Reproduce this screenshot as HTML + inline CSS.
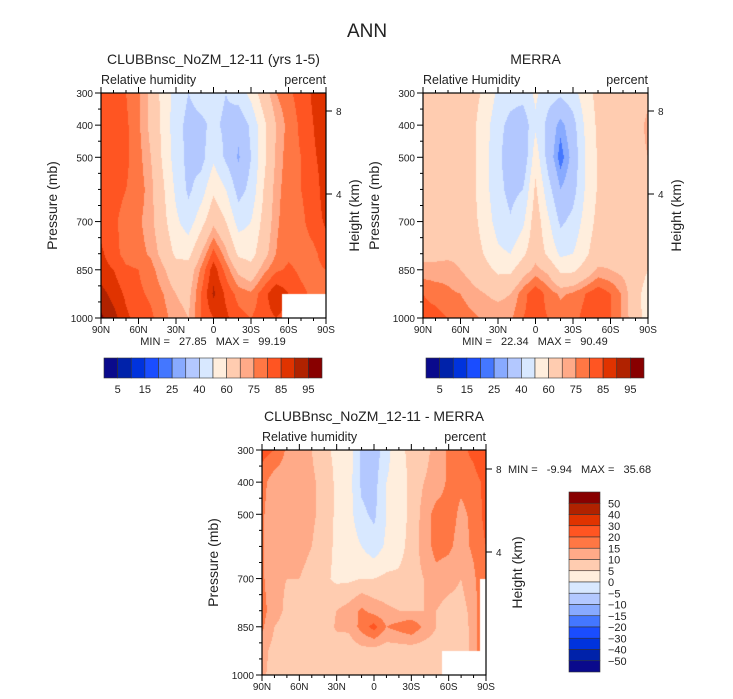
<!DOCTYPE html>
<html><head><meta charset="utf-8">
<style>
body{margin:0;background:#fff;}
#root{position:relative;width:733px;height:699px;overflow:hidden;font-family:"Liberation Sans",sans-serif;}
canvas{position:absolute;}
svg{position:absolute;left:0;top:0;}
</style></head>
<body>
<div id="root">
<canvas id="c1" width="225" height="225" style="left:101px;top:93px"></canvas>
<canvas id="c2" width="225" height="225" style="left:423px;top:93px"></canvas>
<canvas id="c3" width="224" height="225" style="left:262px;top:450px"></canvas>
<svg id="ov" width="733" height="699">
<text x="367" y="37" font-size="19" text-anchor="middle" fill="#222">ANN</text>
</svg>
</div>
<script>
const lats=[90,80,70,60,50,40,30,20,10,0,-10,-20,-30,-40,-50,-60,-70,-80,-90];
const pres=[300,400,500,600,700,800,850,925,1000];
const rhLevels=[5,10,15,20,25,30,40,50,60,70,75,80,85,90,95];
const diffLevels=[-50,-40,-30,-20,-15,-10,-5,0,5,10,15,20,30,40,50];
const colors=["#0a0a8c","#0022aa","#0033dd","#1a4dff","#4477ff","#88aaff","#b3c8ff","#d8e8ff","#ffeedd","#ffccb0","#ffaa88","#ff7744","#ff5522","#e03300","#b02200","#880000"];
const modelRH=[
[82,82,80,76,68,56,46,40,44,44,40,45,53,66,75,79,82,86,90],
[83,82,81,76,68,57,44,37,38,42,38,32,42,57,70,77,81,85,90],
[83,82,81,77,70,58,45,37,36,48,38,29,40,57,71,78,80,84,88],
[84,82,80,78,72,61,48,38,45,58,50,36,43,60,73,78,80,82,88],
[83,81,78,76,72,63,52,45,56,68,60,46,50,63,74,78,79,82,86],
[86,82,78,77,74,67,58,57,70,82,72,58,56,67,75,79,78,79,82],
[87,85,81,80,77,71,64,65,76,88,78,68,64,73,79,81,79,79,80],
[92,88,84,81,79,75,70,68,80,91,84,78,76,83,89,85,81,79,79],
[96,92,86,83,81,77,72,70,80,85,86,82,80,83,85,83,81,79,79]];
const merraRH=[
[62,64,64,64,63,58,48,44,44,52,44,42,46,56,63,64,64,65,68],
[63,64,65,65,62,54,43,37,33,48,37,27,36,52,62,65,65,66,72],
[64,65,66,65,62,53,42,35,31,56,36,22,33,50,61,65,66,67,70],
[65,66,66,65,62,53,43,37,40,62,44,30,36,51,61,65,66,67,70],
[66,67,67,66,63,55,46,41,48,66,52,38,43,54,63,66,66,67,70],
[68,68,68,68,65,59,52,50,58,67,58,48,50,58,66,68,68,68,62],
[72,72,73,70,67,63,58,58,66,72,68,58,58,64,71,70,68,66,60],
[80,78,76,75,72,70,68,70,78,84,78,74,76,80,84,80,74,64,55],
[82,82,80,78,76,74,74,74,80,82,80,78,78,82,82,80,74,65,55]];
const diffRH=[
[22,20,14,14,10,6,4,3,-6,-8,-2,4,6,8,12,16,18,22,30],
[17,12,12,13,11,8,4,2,-6,-7,0,3,6,10,12,16,16,17,22],
[16,11,12,13,11,8,4,2,-4,-6,0,3,6,12,17,17,14,16,22],
[16,11,12,12,10,7,4,3,0,-3,1,3,7,12,17,16,13,16,20],
[16,11,10,10,8,6,4,4,5,5,6,6,8,10,13,12,10,14,20],
[17,12,9,8,7,7,10,12,16,13,11,10,10,10,10,8,8,12,22],
[16,10,8,7,7,6,11,11,17,22,15,17,19,14,10,6,7,12,22],
[12,8,6,5,6,6,6,7,8,8,7,7,7,7,7,7,7,12,22],
[11,8,6,5,6,5,5,5,5,6,6,5,5,6,6,6,6,10,20]];
const surfModel=[1000,1000,1000,1000,1000,1000,1000,1000,1000,1000,1000,1000,1000,1000,1000,925,925,925,925];
const surfMerra=[1000,1000,1000,1000,1000,1000,1000,1000,1000,1000,1000,1000,1000,1000,1000,1000,1000,1000,1000];
const surfDiff=[1000,1000,1000,1000,1000,1000,1000,1000,1000,1000,1000,1000,1000,1000,1000,925,925,925,700];
const latTicks=["90N","60N","30N","0","30S","60S","90S"];
const presTicks=[300,400,500,700,850,1000];
const hgtTicks=[8,4];

function hex(c){return [parseInt(c.substr(1,2),16),parseInt(c.substr(3,2),16),parseInt(c.substr(5,2),16)];}
const rgb=colors.map(hex);
function drawPanel(id,vals,levels,surf){
  const cv=document.getElementById(id),ctx=cv.getContext('2d');
  const W=cv.width,H=cv.height,img=ctx.createImageData(W,H);
  const nl=lats.length;
  for(let y=0;y<H;y++){
    const p=300+(y+0.5)/H*700;
    let r=0;while(r<pres.length-2&&pres[r+1]<p)r++;
    const ty=Math.min(1,Math.max(0,(p-pres[r])/(pres[r+1]-pres[r])));
    for(let x=0;x<W;x++){
      const fx=(x+0.5)/W*(nl-1);
      const c=Math.min(nl-2,Math.floor(fx)),tx=fx-c;
      const k=(y*W+x)*4;
      if(p>surf[Math.round(fx)]){img.data[k]=255;img.data[k+1]=255;img.data[k+2]=255;img.data[k+3]=255;continue;}
      const v=(vals[r][c]*(1-tx)+vals[r][c+1]*tx)*(1-ty)+(vals[r+1][c]*(1-tx)+vals[r+1][c+1]*tx)*ty;
      let i=0;while(i<levels.length&&v>=levels[i])i++;
      const col=rgb[i];
      img.data[k]=col[0];img.data[k+1]=col[1];img.data[k+2]=col[2];img.data[k+3]=255;
    }
  }
  ctx.putImageData(img,0,0);
}
drawPanel('c1',modelRH,rhLevels,surfModel);
drawPanel('c2',merraRH,rhLevels,surfMerra);
drawPanel('c3',diffRH,diffLevels,surfDiff);

const NS='http://www.w3.org/2000/svg',ov=document.getElementById('ov');
function el(t,a,txt){const e=document.createElementNS(NS,t);for(const k in a)e.setAttribute(k,a[k]);if(txt!==undefined)e.textContent=txt;ov.appendChild(e);return e;}
function axes(L,T,W,H,title,left,hgt8,hgt4,hOff){
  let e=el('rect',{x:L,y:T,width:W,height:H,fill:'none',stroke:'#000','stroke-width':1.2});
  
  
  e=el('text',{x:L+W/2,y:T-29,'font-size':14,'text-anchor':'middle',fill:'#222'},title);
  
  
  e=el('text',{x:L,y:T-9,'font-size':12.5,fill:'#222'},left);
  
  
  e=el('text',{x:L+W,y:T-9,'font-size':12.5,'text-anchor':'end',fill:'#222'},'percent');
  
  
  for(let i=0;i<=18;i++){
    const x=L+i/18*W,len=i%3==0?6:3;
    el('line',{x1:x,y1:T+H,x2:x,y2:T+H+len,stroke:'#000'});
    el('line',{x1:x,y1:T,x2:x,y2:T-len,stroke:'#000'});
  }
  latTicks.forEach((s,i)=>{
    const t=el('text',{x:L+i/6*W,y:T+H+15,'font-size':10,'text-anchor':'middle',fill:'#222'},s);
    
    
  });
  for(let p=300;p<=1000;p+=50){
    const y=T+(p-300)/700*H,len=presTicks.includes(p)?6:3;
    el('line',{x1:L,y1:y,x2:L-len,y2:y,stroke:'#000'});
  }
  presTicks.forEach(p=>{
    const t=el('text',{x:L-8,y:T+(p-300)/700*H+4,'font-size':10,'text-anchor':'end',fill:'#222'},p);
    
    
  });
  hgtTicks.forEach((h,i)=>{
    const y=i==0?hgt8:hgt4;
    el('line',{x1:L+W,y1:y,x2:L+W+6,y2:y,stroke:'#000'});
    const t=el('text',{x:L+W+10,y:y+4,'font-size':10,fill:'#222'},h);
    
    
  });
  e=el('text',{transform:`translate(${L-44},${T+H/2}) rotate(-90)`,'font-size':14,'text-anchor':'middle',fill:'#222'},'Pressure (mb)');
  
  
  e=el('text',{transform:`translate(${L+W+hOff},${T+H/2+10}) rotate(-90)`,'font-size':14,'text-anchor':'middle',fill:'#222'},'Height (km)');
  
  
}
axes(101,93,225,225,'CLUBBnsc_NoZM_12-11 (yrs 1-5)','Relative humidity',111,194,33);
axes(423,93,225,225,'MERRA','Relative Humidity',111,194,33);
axes(262,450,224,225,'CLUBBnsc_NoZM_12-11 - MERRA','Relative humidity',469,552,36);

let m=el('text',{x:213,y:345,'font-size':11,'text-anchor':'middle',fill:'#222',style:'white-space:pre'},'MIN =   27.85   MAX =   99.19');


m=el('text',{x:535,y:345,'font-size':11,'text-anchor':'middle',fill:'#222',style:'white-space:pre'},'MIN =   22.34   MAX =   90.49');


m=el('text',{x:508,y:473,'font-size':11,fill:'#222',style:'white-space:pre'},'MIN =   -9.94   MAX =   35.68');



const hLabels=["5","15","25","40","60","75","85","95"];
function hbar(L){
  const T=358,W=218,H=20,bw=W/16;
  colors.forEach((c,i)=>{
    const r=el('rect',{x:L+i*bw,y:T,width:bw,height:H,fill:c,stroke:'#333','stroke-width':0.6});
    
    
  });
  hLabels.forEach((s,i)=>{
    const t=el('text',{x:L+(2*i+1)*bw,y:T+H+15,'font-size':11,'text-anchor':'middle',fill:'#222'},s);
    
    
  });
}
hbar(104);hbar(426);
(function(){
  const L=569,T=492,W=31,H=180,bh=H/16;
  colors.slice().reverse().forEach((c,i)=>{
    const r=el('rect',{x:L,y:T+i*bh,width:W,height:bh,fill:c,stroke:'#333','stroke-width':0.6});
    
    
  });
  diffLevels.slice().reverse().forEach((v,i)=>{
    const t=el('text',{x:608,y:T+(i+1)*bh+4,'font-size':11,fill:'#222'},v<0?'\u2212'+(-v):String(v));
    
    
  });
})();
</script>
</body></html>
